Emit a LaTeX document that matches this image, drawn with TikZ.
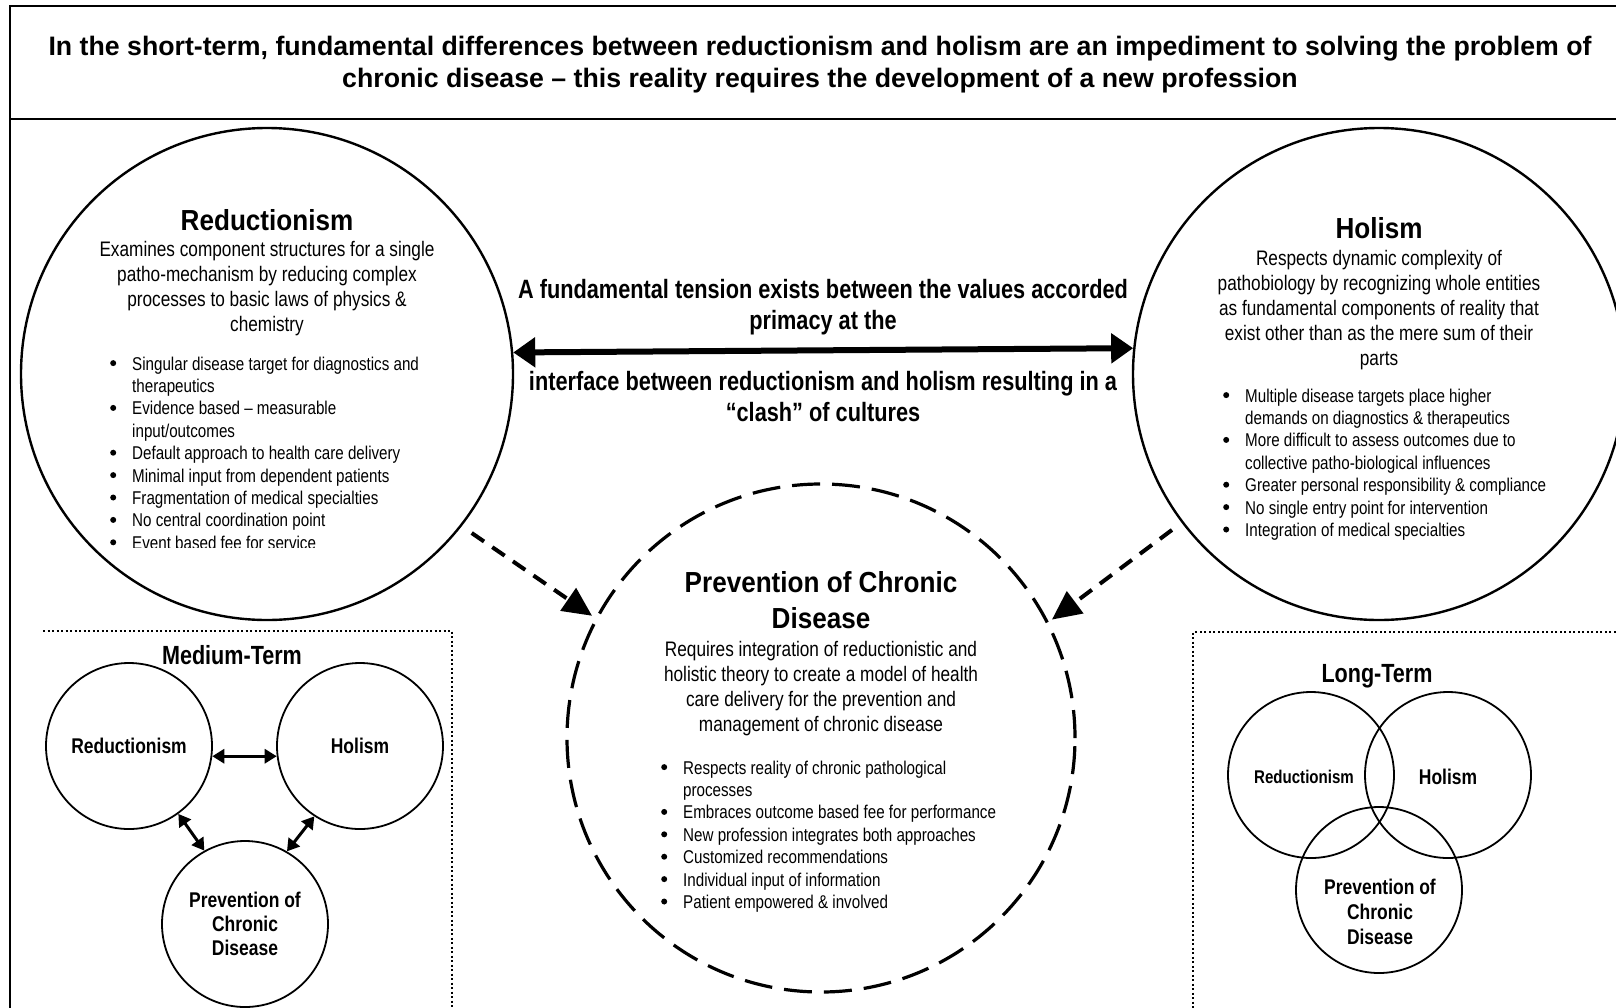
\documentclass[tikz,border=0pt]{standalone}
\usepackage{fontspec}
\setmainfont{Liberation Sans}
\newfontfamily\narrowfont[FakeStretch=0.82]{Liberation Sans}
\newfontfamily\headfont[FakeStretch=0.9]{Liberation Sans}
\usetikzlibrary{arrows.meta}

% round list marker drawn as a filled disc
\newcommand\listdot{%
  \begin{pgfpicture}%
    \pgfsetbaseline{0pt}%
    \pgfpathcircle{\pgfpoint{3pt}{7pt}}{3pt}%
    \pgfusepath{fill}%
  \end{pgfpicture}}
% bullet line and continuation line for the lists
\newcommand\bitem[1]{\makebox[22pt][l]{\listdot}#1}
\newcommand\bcont[1]{\hspace*{22pt}#1}

\tikzset{
  frameline/.style={line width=2.2pt},
  bigcircle/.style={circle, draw, line width=2.4pt, minimum size=492pt, inner sep=0pt},
  prevcircle/.style={circle, draw, line width=3.2pt, dash pattern=on 28pt off 12pt,
                     minimum size=508pt, inner sep=0pt},
  smallcircle/.style={circle, draw, line width=1.8pt, minimum size=166pt, inner sep=0pt,
                      align=center, font=\narrowfont\bfseries\fontsize{21.3}{23.8}\selectfont},
  venncircle/.style={circle, draw, line width=1.8pt, minimum size=166pt, inner sep=0pt},
  titletext/.style={inner sep=0pt, align=center, font=\bfseries\fontsize{26.7}{32}\selectfont},
  headtext/.style={inner sep=0pt, align=center, font=\headfont\bfseries\fontsize{29}{36}\selectfont},
  desctext/.style={inner sep=0pt, align=center, font=\narrowfont\fontsize{21}{24.8}\selectfont},
  listtext/.style={inner sep=0pt, align=left, anchor=north west,
                   font=\narrowfont\fontsize{18.5}{22.4}\selectfont},
  midtext/.style={inner sep=0pt, align=center, font=\narrowfont\bfseries\fontsize{26.5}{31}\selectfont},
  termtext/.style={inner sep=0pt, font=\narrowfont\bfseries\fontsize{26.3}{30}\selectfont},
  labeltext/.style={inner sep=0pt, align=center, font=\narrowfont\bfseries\fontsize{21.3}{25}\selectfont},
  dotbox/.style={line width=2pt, dash pattern=on 2pt off 2.5pt},
  tensionarrow/.style={line width=6pt,
      {Triangle[length=22pt,width=29pt]}-{Triangle[length=22pt,width=29pt]}},
  linkarrow/.style={line width=3pt,
      {Triangle[length=12pt,width=14pt]}-{Triangle[length=12pt,width=14pt]}},
  feedarrow/.style={line width=4pt, dash pattern=on 15pt off 10pt,
      -{Triangle[length=29pt,width=27pt]}, shorten <=12pt, shorten >=4pt},
}

\begin{document}
\begin{tikzpicture}[x=1pt,y=-1pt]
\useasboundingbox (0,0) rectangle (1616,1007);
\clip (0,0) rectangle (1616,1007);

% outer frame and title band
\draw[frameline] (10,6) rectangle (1630,1030);
\draw[frameline] (10,119) -- (1630,119);
\node[titletext, anchor=north] (title) at (820,35.5)
  {In the short-term, fundamental differences between reductionism and holism are an impediment to solving the problem of\\
   chronic disease – this reality requires the development of a new profession};

% the three main circles
\node[bigcircle] (red) at (267,374) {};
\node[bigcircle] (hol) at (1379,374) {};
\node[prevcircle] (prev) at (821,738) {};

% Reductionism
\node[headtext] (redhead) at (267,220) {Reductionism};
\node[desctext, anchor=north] (reddesc) at (267,241.4)
  {Examines component structures for a single\\
   patho-mechanism by reducing complex\\
   processes to basic laws of physics \&\\
   chemistry};
\begin{scope}
  \clip (0,0) rectangle (1616,547);
  \node[listtext] (redlist) at (110,356.5)
    {\bitem{Singular disease target for diagnostics and}\\
     \bcont{therapeutics}\\
     \bitem{Evidence based – measurable}\\
     \bcont{input/outcomes}\\
     \bitem{Default approach to health care delivery}\\
     \bitem{Minimal input from dependent patients}\\
     \bitem{Fragmentation of medical specialties}\\
     \bitem{No central coordination point}\\
     \bitem{Event based fee for service}};
\end{scope}

% Holism
\node[headtext] (holhead) at (1379,228) {Holism};
\node[desctext, anchor=north] (holdesc) at (1379,250.4)
  {Respects dynamic complexity of\\
   pathobiology by recognizing whole entities\\
   as fundamental components of reality that\\
   exist other than as the mere sum of their\\
   parts};
\node[listtext] (hollist) at (1223,388.5)
  {\bitem{Multiple disease targets place higher}\\
   \bcont{demands on diagnostics \& therapeutics}\\
   \bitem{More difficult to assess outcomes due to}\\
   \bcont{collective patho-biological influences}\\
   \bitem{Greater personal responsibility \& compliance}\\
   \bitem{No single entry point for intervention}\\
   \bitem{Integration of medical specialties}};

% Prevention of Chronic Disease
\node[headtext, anchor=north] (prevhead) at (821,571) {Prevention of Chronic\\Disease};
\node[desctext, anchor=north] (prevdesc) at (821,641.4)
  {Requires integration of reductionistic and\\
   holistic theory to create a model of health\\
   care delivery for the prevention and\\
   management of chronic disease};
\node[listtext] (prevlist) at (661,760.5)
  {\bitem{Respects reality of chronic pathological}\\
   \bcont{processes}\\
   \bitem{Embraces outcome based fee for performance}\\
   \bitem{New profession integrates both approaches}\\
   \bitem{Customized recommendations}\\
   \bitem{Individual input of information}\\
   \bitem{Patient empowered \& involved}};

% tension between the two views
\node[midtext, anchor=north] (tension1) at (823,279)
  {A fundamental tension exists between the values accorded\\primacy at the};
\node[midtext, anchor=north] (tension2) at (823,371)
  {interface between reductionism and holism resulting in a\\“clash” of cultures};
\draw[tensionarrow] (red.5.4) -- (hol.174.6);

% both views feed into prevention
\draw[feedarrow] (red.-38.4) -- (prev.152.4);
\draw[feedarrow] (hol.217.6) -- (prev.27.6);

% medium-term panel
\draw[dotbox] (43,631) -- (452,631) -- (452,1012);
\node[termtext, anchor=base] (medterm) at (232,664.5) {Medium-Term};
\node[smallcircle] (mr) at (129,746) {Reductionism};
\node[smallcircle] (mh) at (360,746) {Holism};
\node[smallcircle] (mp) at (245,924) {Prevention of\\Chronic\\Disease};
\draw[linkarrow] (mr.-7.6) -- (mh.187.6);
\draw[linkarrow] (mr.-54.6) -- (mp.119);
\draw[linkarrow] (mh.-123.5) -- (mp.60);

% long-term panel
\draw[dotbox] (1620,632) -- (1193,632) -- (1193,1012);
\node[termtext, anchor=base] (longterm) at (1377,682.5) {Long-Term};
\node[venncircle] (lr) at (1311,775) {};
\node[venncircle] (lh) at (1448,775) {};
\node[venncircle] (lp) at (1379,890) {};
\node[labeltext, font=\narrowfont\bfseries\fontsize{18.4}{22}\selectfont] (lrlabel) at (1304,777) {Reductionism};
\node[labeltext] (lhlabel) at (1448,777) {Holism};
\node[labeltext] (lplabel) at (1380,912) {Prevention of\\Chronic\\Disease};
\end{tikzpicture}
\end{document}
